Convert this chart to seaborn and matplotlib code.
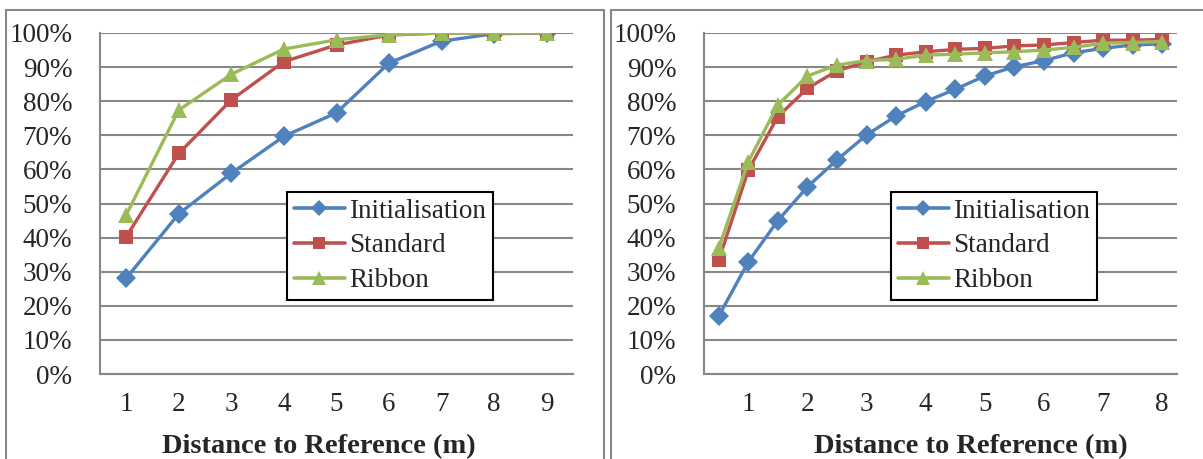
import matplotlib
matplotlib.use('Agg')
import matplotlib.pyplot as plt
import seaborn as sns
import pandas as pd
from matplotlib.lines import Line2D
from matplotlib.ticker import FixedLocator, NullFormatter, PercentFormatter

methods = ['Initialisation', 'Standard', 'Ribbon']
colors = ['#4F81BD', '#C0504D', '#9BBB59']
markers = ['D', 's', '^']
msizes = [10, 10.5, 12]

# left panel, 1 m steps
dist_left = [1, 2, 3, 4, 5, 6, 7, 8, 9]
init_left = [28.1, 47.0, 58.9, 69.7, 76.6, 91.2, 97.6, 99.8, 100]
std_left = [40.3, 64.7, 80.4, 91.6, 96.5, 99.4, 100, 100, 100]
rib_left = [46.7, 77.4, 87.9, 95.3, 98.0, 99.5, 100, 100, 100]

# right panel, 0.5 m steps
dist_right = [0.5, 1, 1.5, 2, 2.5, 3, 3.5, 4, 4.5, 5, 5.5, 6, 6.5, 7, 7.5, 8]
init_right = [17.0, 32.9, 45.0, 54.9, 62.8, 70.1, 75.7, 79.9,
              83.5, 87.4, 90.1, 91.9, 94.2, 95.5, 96.5, 96.8]
std_right = [33.4, 59.8, 75.5, 83.8, 88.9, 91.6, 93.5, 94.5,
             95.2, 95.5, 96.2, 96.5, 97.2, 97.9, 97.9, 98.1]
rib_right = [36.9, 62.3, 78.9, 87.4, 90.6, 91.9, 92.3, 93.5,
             93.8, 94.2, 94.5, 95.0, 95.8, 97.0, 97.2, 97.5]

left_ticks = [1, 2, 3, 4, 5, 6, 7, 8, 9]
right_ticks = [1, 2, 3, 4, 5, 6, 7, 8]

sns.set_style('white')
plt.rcParams['font.family'] = ['Liberation Serif', 'DejaVu Serif']

GRID = '#878787'
W, H = 1203, 459
FS = 19.5


def long_form(dist, series):
    frames = []
    for name, vals in zip(methods, series):
        frames.append(pd.DataFrame({'dist': dist, 'pct': vals, 'method': name}))
    return pd.concat(frames, ignore_index=True)


def draw_panel(ax, df, xlim, boundaries, labels):
    sns.lineplot(data=df, x='dist', y='pct', hue='method', style='method',
                 hue_order=methods, style_order=methods,
                 palette=dict(zip(methods, colors)),
                 markers=dict(zip(methods, markers)), dashes=False,
                 linewidth=2.4, markersize=10, markeredgewidth=0,
                 legend=False, ax=ax)
    for line, ms in zip(ax.lines, msizes):
        line.set_markersize(ms)
    ax.set_xlim(*xlim)
    ax.set_ylim(0, 100)
    ax.set_yticks(range(0, 101, 10))
    ax.yaxis.set_major_formatter(PercentFormatter(decimals=0))
    ax.grid(axis='y', color=GRID, linewidth=1.5)
    ax.set_axisbelow(True)
    for s in ['top', 'right']:
        ax.spines[s].set_visible(False)
    for s in ['left', 'bottom']:
        ax.spines[s].set_color(GRID)
        ax.spines[s].set_linewidth(1.5)
    ax.xaxis.set_major_locator(FixedLocator(labels))
    ax.xaxis.set_minor_locator(FixedLocator(boundaries))
    ax.xaxis.set_minor_formatter(NullFormatter())
    ax.tick_params(axis='x', which='major', length=0, pad=13, labelsize=FS)
    ax.tick_params(axis='x', which='minor', length=5, width=1.5, color=GRID,
                   direction='out')
    ax.tick_params(axis='y', length=5, width=1.5, color=GRID, direction='out',
                   pad=15, labelsize=FS)
    ax.set_xlabel('')
    ax.set_ylabel('')
    handles = [Line2D([], [], color=c, marker=m, markersize=ms * 0.85,
                      linewidth=2.6, markeredgewidth=0)
               for c, m, ms in zip(colors, markers, msizes)]
    leg = ax.legend(handles, methods, loc='upper left',
                    bbox_to_anchor=(0.395, 0.534), borderaxespad=0,
                    fontsize=FS, frameon=True, fancybox=False,
                    edgecolor='black', framealpha=1, handlelength=1.9,
                    handletextpad=0.15, labelspacing=0.36, borderpad=0.25)
    leg.get_frame().set_linewidth(1.5)


fig = plt.figure(figsize=(W / 100, H / 100), dpi=100)
ax1 = fig.add_axes([100 / W, 1 - 374 / H, 473 / W, 341 / H])
ax2 = fig.add_axes([704 / W, 1 - 374 / H, 473 / W, 341 / H])

draw_panel(ax1, long_form(dist_left, [init_left, std_left, rib_left]),
           (0.5, 9.5), [x + 0.5 for x in range(0, 10)], left_ticks)
draw_panel(ax2, long_form(dist_right, [init_right, std_right, rib_right]),
           (0.25, 8.25), [0.25 + 0.5 * i for i in range(17)], right_ticks)

# chart frames
frame_kw = dict(color=GRID, linewidth=1.5, transform=fig.transFigure)
for x0, x1 in [(6, 604), (611, 1203)]:
    fig.add_artist(Line2D([x0 / W, x1 / W], [1 - 10 / H, 1 - 10 / H], **frame_kw))
    fig.add_artist(Line2D([x0 / W, x0 / W], [0, 1 - 10 / H], **frame_kw))
    if x1 < W:
        fig.add_artist(Line2D([x1 / W, x1 / W], [0, 1 - 10 / H], **frame_kw))

for cx in [319, 971]:
    fig.text(cx / W, 6 / H, 'Distance to Reference (m)', ha='center',
             va='baseline', fontsize=20.5, fontweight='bold')

fig.savefig('out.png', dpi=100)
